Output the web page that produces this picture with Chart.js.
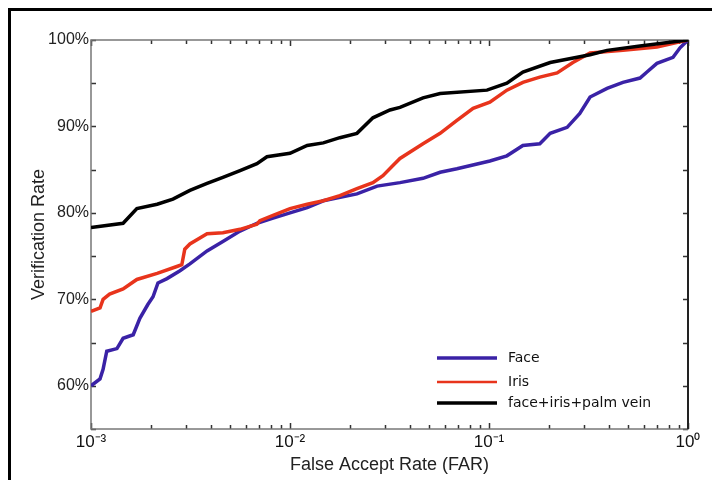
<!DOCTYPE html>
<html>
<head>
<meta charset="utf-8">
<script src="https://cdn.jsdelivr.net/npm/chart.js@4.4.1/dist/chart.umd.min.js"></script>
<style>
  html, body { margin: 0; padding: 0; background: #fff; }
  #frame { position: absolute; left: 8px; top: 8px; width: 720px; height: 500px; border: 3px solid #000; }
  #wrap { position: absolute; left: 0; top: 0; width: 712px; height: 480px; }
</style>
</head>
<body>
<div id="frame"></div>
<div id="wrap"><canvas id="chart" width="712" height="480"></canvas></div>
<script>
// values (FAR on a log axis, verification rate in %)
const faceFar = [0.001, 0.00111, 0.00115, 0.0012, 0.00135, 0.00145, 0.00163, 0.00176, 0.00193, 0.00205,
  0.00217, 0.00241, 0.0028, 0.00314, 0.00383, 0.0046, 0.00561, 0.00682, 0.00822, 0.01, 0.0122, 0.0147,
  0.0217, 0.0274, 0.0357, 0.0466, 0.0568, 0.069, 0.101, 0.123, 0.148, 0.18, 0.203, 0.247, 0.286, 0.322,
  0.392, 0.471, 0.574, 0.622, 0.698, 0.841, 0.912, 1];
const faceRate = [60.0, 60.8, 61.9, 64.0, 64.3, 65.5, 65.9, 67.8, 69.4, 70.3,
  71.9, 72.4, 73.3, 74.1, 75.6, 76.7, 77.9, 78.8, 79.4, 80.0, 80.6, 81.4,
  82.2, 83.1, 83.5, 84.0, 84.7, 85.1, 86.0, 86.6, 87.8, 88.0, 89.2, 89.9, 91.5, 93.4,
  94.4, 95.1, 95.6, 96.3, 97.3, 98.0, 99.1, 100];

const irisFar = [0.001, 0.00111, 0.00115, 0.00124, 0.00145, 0.0017, 0.00215, 0.0027, 0.00286, 0.00296,
  0.00314, 0.00383, 0.0046, 0.00561, 0.00682, 0.00706, 0.00822, 0.01, 0.0122, 0.0147, 0.0178, 0.0217,
  0.0261, 0.0293, 0.033, 0.0357, 0.0466, 0.0568, 0.069, 0.0832, 0.101, 0.123, 0.148, 0.18, 0.22, 0.264,
  0.322, 0.471, 0.698, 1];
const irisRate = [68.6, 69.0, 70.0, 70.6, 71.2, 72.3, 73.0, 73.8, 74.0, 75.8,
  76.4, 77.6, 77.7, 78.1, 78.7, 79.1, 79.7, 80.5, 81.0, 81.4, 82.0, 82.8,
  83.5, 84.3, 85.5, 86.3, 88.0, 89.2, 90.7, 92.1, 92.8, 94.2, 95.1, 95.7, 96.2, 97.4,
  98.5, 98.8, 99.2, 100];

const fusionFar = [0.001, 0.00145, 0.0017, 0.00215, 0.00258, 0.00314, 0.00383, 0.0046, 0.00561, 0.00682,
  0.00766, 0.01, 0.0122, 0.0147, 0.0178, 0.0217, 0.0261, 0.0318, 0.0357, 0.0466, 0.0568, 0.0977, 0.123,
  0.148, 0.203, 0.322, 0.392, 0.574, 1];
const fusionRate = [78.3, 78.8, 80.5, 81.0, 81.6, 82.6, 83.4, 84.1, 84.9, 85.7,
  86.5, 86.9, 87.8, 88.1, 88.7, 89.2, 91.0, 91.9, 92.2, 93.3, 93.8, 94.2, 95.0,
  96.3, 97.4, 98.3, 98.8, 99.3, 100];

const xTicks = [0.001, 0.002, 0.003, 0.004, 0.005, 0.006, 0.007, 0.008, 0.009,
  0.01, 0.02, 0.03, 0.04, 0.05, 0.06, 0.07, 0.08, 0.09,
  0.1, 0.2, 0.3, 0.4, 0.5, 0.6, 0.7, 0.8, 0.9, 1];
const xLabels = { 0.001: '10⁻³', 0.01: '10⁻²', 0.1: '10⁻¹', 1: '10⁰' };
const yTicks = [55, 60, 65, 70, 75, 80, 85, 90, 95, 100];
const yLabels = { 60: '60%', 70: '70%', 80: '80%', 90: '90%', 100: '100%' };

const seriesNames = ['Face', 'Iris', 'face+iris+palm vein'];
const seriesColors = ['#3a22a6', '#e8341c', '#000000'];

function points(xs, ys) {
  return xs.map((x, i) => ({ x: x, y: ys[i] }));
}

// box, inward ticks on all four sides
const boxTicks = {
  id: 'boxTicks',
  beforeDatasetsDraw(chart) {
    const { ctx, chartArea: a, scales } = chart;
    ctx.save();
    ctx.strokeStyle = '#333';
    ctx.lineWidth = 1.5;
    xTicks.forEach((v) => {
      const px = Math.round(scales.x.getPixelForValue(v)) + 0.5;
      const len = xLabels[v] ? 6 : 4;
      ctx.beginPath();
      ctx.moveTo(px, a.bottom); ctx.lineTo(px, a.bottom - len);
      ctx.moveTo(px, a.top); ctx.lineTo(px, a.top + len);
      ctx.stroke();
    });
    yTicks.forEach((v) => {
      const py = Math.round(scales.y.getPixelForValue(v)) + 0.5;
      ctx.beginPath();
      ctx.moveTo(a.left, py); ctx.lineTo(a.left + 5, py);
      ctx.moveTo(a.right, py); ctx.lineTo(a.right - 5, py);
      ctx.stroke();
    });
    ctx.strokeStyle = '#777';
    ctx.lineWidth = 1.5;
    ctx.strokeRect(a.left, a.top, a.right - a.left, a.bottom - a.top);
    ctx.strokeStyle = '#222';
    ctx.lineWidth = 2;
    ctx.beginPath();
    ctx.moveTo(a.right, a.top); ctx.lineTo(a.right, a.bottom);
    ctx.stroke();
    ctx.restore();
  }
};

// legend sits inside the plot, lower right, no box
const innerLegend = {
  id: 'innerLegend',
  afterDraw(chart) {
    const { ctx, chartArea: a } = chart;
    const rows = [a.bottom - 71, a.bottom - 47, a.bottom - 26];
    const widths = [3.5, 2.5, 3.5];
    ctx.save();
    ctx.font = '14px "DejaVu Sans", Verdana, sans-serif';
    ctx.textBaseline = 'middle';
    seriesNames.forEach((name, i) => {
      ctx.strokeStyle = seriesColors[i];
      ctx.lineWidth = widths[i];
      ctx.beginPath();
      ctx.moveTo(a.right - 251, rows[i]);
      ctx.lineTo(a.right - 191, rows[i]);
      ctx.stroke();
      ctx.fillStyle = '#111';
      ctx.fillText(name, a.right - 180, rows[i]);
    });
    ctx.restore();
  }
};

const ctx = document.getElementById('chart').getContext('2d');
new Chart(ctx, {
  type: 'line',
  data: {
    datasets: [
      { label: seriesNames[2], data: points(fusionFar, fusionRate), borderColor: seriesColors[2], borderWidth: 3.5 },
      { label: seriesNames[1], data: points(irisFar, irisRate), borderColor: seriesColors[1], borderWidth: 3.5 },
      { label: seriesNames[0], data: points(faceFar, faceRate), borderColor: seriesColors[0], borderWidth: 3.5 },
    ],
  },
  options: {
    responsive: false,
    animation: false,
    layout: { padding: { left: 0, top: 40, right: 24, bottom: 0 } },
    elements: { point: { radius: 0 }, line: { tension: 0, fill: false } },
    plugins: { legend: { display: false }, tooltip: { enabled: false } },
    scales: {
      x: {
        type: 'logarithmic',
        min: 0.001,
        max: 1,
        afterBuildTicks: (scale) => { scale.ticks = xTicks.map((v) => ({ value: v })); },
        afterFit: (scale) => { scale.height = 51; },
        grid: { display: false, drawTicks: false },
        border: { display: false },
        ticks: {
          autoSkip: false,
          maxRotation: 0,
          padding: 3,
          color: '#111',
          font: { family: '"Liberation Sans", Arial, sans-serif', size: 17 },
          callback: (v) => xLabels[v] || '',
        },
        title: {
          display: true,
          text: 'False Accept Rate (FAR)',
          color: '#222',
          padding: { top: 0, bottom: 4 },
          font: { family: '"Liberation Sans", Arial, sans-serif', size: 18 },
        },
      },
      y: {
        min: 55,
        max: 100,
        afterBuildTicks: (scale) => { scale.ticks = yTicks.map((v) => ({ value: v })); },
        afterFit: (scale) => { scale.width = 91; },
        grid: { display: false, drawTicks: false },
        border: { display: false },
        ticks: {
          padding: 2,
          color: '#222',
          font: { family: '"Liberation Sans", Arial, sans-serif', size: 16 },
          callback: (v) => yLabels[v] || '',
        },
        title: {
          display: true,
          text: 'Verification Rate',
          color: '#222',
          padding: { top: 28, bottom: 0 },
          font: { family: '"Liberation Sans", Arial, sans-serif', size: 18 },
        },
      },
    },
  },
  plugins: [boxTicks, innerLegend],
});
</script>
</body>
</html>
